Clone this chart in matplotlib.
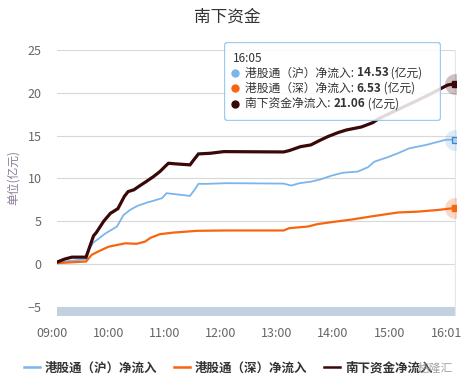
import matplotlib
matplotlib.use("Agg")
import matplotlib.pyplot as plt
import matplotlib.transforms as mtransforms
from matplotlib.patches import FancyBboxPatch

plt.rcParams['font.family'] = ['Noto Sans CJK SC', 'DejaVu Sans']


def to_min(s):
    h, m = s.split(':')
    return int(h) * 60 + int(m)


# 港股通（沪）
sh_time = ['09:00', '09:31', '09:35', '09:39', '09:44', '09:51', '10:04', '10:11', '10:18', '10:26',
           '10:36', '10:40', '10:52', '10:57', '11:03', '11:22', '11:28', '11:31', '11:40', '12:01',
           '13:02', '13:10', '13:19', '13:31', '13:42', '13:53', '14:05', '14:21', '14:32', '14:39',
           '14:53', '15:04', '15:16', '15:34', '15:48', '15:55', '16:05']
sh_value = [0.15, 0.55, 1.83, 2.5, 2.9, 3.5, 4.36, 5.7, 6.3, 6.78,
            7.16, 7.28, 7.67, 8.26, 8.18, 7.94, 8.84, 9.35, 9.35, 9.43,
            9.38, 9.15, 9.43, 9.6, 9.9, 10.3, 10.65, 10.78, 11.3, 11.95,
            12.46, 12.93, 13.5, 13.9, 14.3, 14.5, 14.53]

# 港股通（深）
sz_time = ['09:00', '09:31', '09:37', '09:44', '09:55', '10:04', '10:13', '10:25', '10:34', '10:40',
           '10:50', '11:05', '11:30', '12:01', '13:02', '13:08', '13:28', '13:38', '13:53', '14:14',
           '14:39', '15:04', '15:25', '15:47', '16:05']
sz_value = [0.08, 0.27, 1.05, 1.44, 2.0, 2.2, 2.4, 2.34, 2.6, 3.05,
            3.47, 3.66, 3.86, 3.9, 3.9, 4.17, 4.36, 4.64, 4.87, 5.17,
            5.6, 6.0, 6.1, 6.3, 6.53]

# 南下资金
total_time = ['09:00', '09:08', '09:16', '09:31', '09:39', '09:42', '09:50', '09:57', '10:05', '10:12',
              '10:16', '10:22', '10:28', '10:35', '10:43', '10:50', '10:56', '10:59', '11:05', '11:22',
              '11:26', '11:31', '11:44', '11:58', '13:02', '13:08', '13:20', '13:31', '13:40', '13:49',
              '14:00', '14:09', '14:25', '14:37', '14:44', '15:15', '15:36', '15:50', '15:57', '16:05']
total_value = [0.2, 0.55, 0.78, 0.78, 3.27, 3.66, 5.0, 5.9, 6.45, 7.9,
               8.45, 8.65, 9.1, 9.6, 10.2, 10.8, 11.45, 11.76, 11.7, 11.57,
               12.15, 12.85, 12.93, 13.12, 13.08, 13.24, 13.7, 13.9, 14.4, 14.87,
               15.34, 15.65, 16.0, 16.5, 17.0, 18.6, 19.7, 20.5, 20.9, 21.06]

x_tick_labels = ['09:00', '10:00', '11:00', '12:00', '13:00', '14:00', '15:00', '16:01']
y_ticks = [-5, 0, 5, 10, 15, 20, 25]
series_names = ['港股通（沪）净流入', '港股通（深）净流入', '南下资金净流入']
series_colors = ['#7cb5ec', '#f7650f', '#3a0808']
hover_time = '16:05'

W, H = 465, 383
fig = plt.figure(figsize=(W / 100, H / 100), dpi=100)
ax = fig.add_axes([57 / W, 1 - 316 / H, 399 / W, 266 / H])
ax.set_xlim(to_min('09:00'), to_min('16:06'))
ax.set_ylim(-6.1, 25)
for s in ax.spines.values():
    s.set_visible(False)

ax.set_yticks(y_ticks)
ax.yaxis.grid(True, color='#d8d8d8', lw=0.8)
ax.set_axisbelow(True)
ax.axhspan(-6.1, -5, color='#c2d0e0', lw=0, zorder=1)
ax.set_xticks([to_min(t) for t in x_tick_labels])
ax.set_xticklabels(x_tick_labels)
ax.tick_params(axis='y', length=0, pad=11, labelsize=9, labelcolor='#666666')
ax.tick_params(axis='x', length=0, pad=8, labelsize=9, labelcolor='#666666')
shift = mtransforms.ScaledTranslation(-5 / 100, 0, fig.dpi_scale_trans)
for lab in ax.get_xticklabels():
    lab.set_transform(lab.get_transform() + shift)

ax.set_ylabel('单位(亿元)', color='#8a7b98', fontsize=8.5)
ax.yaxis.set_label_coords(-0.092, 0.52)

ax.axvline(to_min(hover_time), color='#e2e8f0', lw=1, zorder=2)

data = [(sh_time, sh_value, 1.3), (sz_time, sz_value, 1.6), (total_time, total_value, 2.3)]
lines = []
for (tt, vv, lw), name, c in zip(data, series_names, series_colors):
    xs = [to_min(t) for t in tt]
    ln, = ax.plot(xs, vv, color=c, lw=lw, label=name, zorder=3, solid_joinstyle='miter')
    lines.append(ln)
    ax.plot(xs[-1], vv[-1], 'o', ms=15, color=c, alpha=0.25, mec='none', zorder=4)
    if c == series_colors[0]:
        ax.plot(xs[-1], vv[-1], 's', ms=4, mfc='#a9d0f5', mec='#3a86c8', mew=0.9, zorder=5)
    else:
        ax.plot(xs[-1], vv[-1], 's', ms=4.5, color=c, zorder=5)

fig.text(227 / W, 1 - 17 / H, '南下资金', ha='center', va='center', fontsize=12, color='#333333')

# tooltip
tx0, ty0, tw, th = 224, 42, 217, 79
tip = fig.add_axes([tx0 / W, 1 - (ty0 + th) / H, tw / W, th / H])
tip.set_xlim(0, tw)
tip.set_ylim(th, 0)
tip.axis('off')
tip.add_patch(FancyBboxPatch((0.5, 0.5), tw - 1, th - 1, boxstyle='round,pad=0,rounding_size=3',
                             fc='white', ec='#8fc1ee', lw=1, alpha=0.85))
tip.text(9, 16, hover_time, va='center', ha='left', fontsize=8.5, color='#333333')
ends = [sh_value[-1], sz_value[-1], total_value[-1]]
for i, (name, c, v) in enumerate(zip(series_names, series_colors, ends)):
    yy = 31 + i * 15.3
    tip.plot(11, yy, 'o', ms=5, color=c)
    t1 = tip.text(21, yy, name + ': ', va='center', ha='left', fontsize=8.5, color='#333333')
    t2 = tip.annotate(f'{v:.2f}', xy=(1, 0), xycoords=t1, va='bottom', ha='left',
                      fontsize=8.5, color='#333333', weight='bold')
    tip.annotate(' (亿元)', xy=(1, 0), xycoords=t2, va='bottom', ha='left',
                 fontsize=8.5, color='#333333')

leg = fig.legend(handles=lines, loc='center', bbox_to_anchor=(228 / W, 1 - 368 / H), ncol=3,
                 frameon=False, handlelength=1.3, handletextpad=0.4,
                 columnspacing=1.3, borderpad=0, prop={'weight': 'bold', 'size': 9})
for t in leg.get_texts():
    t.set_color('#333333')
for h in leg.get_lines():
    h.set_linewidth(1.8)

fig.text(435 / W, 1 - 368 / H, '格隆汇', ha='center', va='center', fontsize=8.5,
         color='#9a9a9a', alpha=0.9, zorder=10)

fig.savefig('out.png', dpi=100)
